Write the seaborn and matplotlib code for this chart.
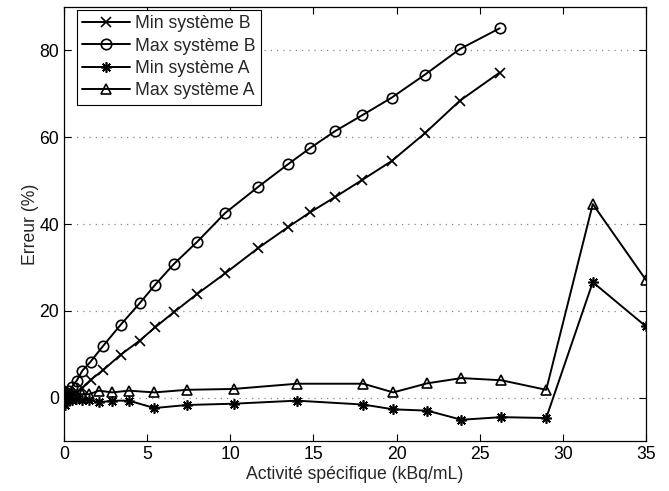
import numpy as np
import pandas as pd
import matplotlib
matplotlib.use("Agg")
import matplotlib.pyplot as plt
import seaborn as sns

# activity values (kBq/mL)
x_sys_b = [0.05, 0.1, 0.2, 0.3, 0.46, 0.76, 1.1, 1.6, 2.37, 3.41, 4.54, 5.48, 6.61, 8.01,
           9.68, 11.69, 13.48, 14.8, 16.3, 17.95, 19.7, 21.7, 23.8, 26.2]
min_sys_b = [0.0, 0.1, 0.2, 0.4, 0.7, 1.2, 2.2, 4.1, 6.4, 9.9, 13.1, 16.2, 19.7, 23.9,
             28.6, 34.5, 39.3, 42.7, 46.2, 50.2, 54.5, 60.9, 68.4, 74.9]
max_sys_b = [0.3, 0.6, 1.0, 1.5, 2.4, 3.9, 6.2, 8.3, 12.0, 16.8, 21.7, 26.0, 30.8, 35.9,
             42.5, 48.6, 53.8, 57.5, 61.4, 65.1, 69.1, 74.4, 80.3, 85.1]

x_sys_a = [0.05, 0.1, 0.2, 0.3, 0.45, 0.7, 1.06, 1.52, 2.1, 2.9, 3.9, 5.43, 7.4, 10.2,
           14.0, 18.0, 19.8, 21.85, 23.9, 26.3, 29.0, 31.8, 35.0]
min_sys_a = [-1.7, -0.8, -0.5, -0.3, -0.6, -0.3, -0.5, -0.5, -1.1, -0.7, -0.7, -2.4, -1.7, -1.4,
             -0.7, -1.6, -2.7, -3.0, -5.1, -4.5, -4.7, 26.6, 16.4]
max_sys_a = [1.5, 1.0, 0.8, 0.5, 0.8, 0.6, 0.8, 0.8, 1.6, 1.2, 1.6, 1.2, 1.8, 2.0,
             3.2, 3.2, 1.2, 3.3, 4.5, 4.0, 1.8, 44.6, 27.1]

series = [
    ("Min système B", x_sys_b, min_sys_b, "x", "k"),
    ("Max système B", x_sys_b, max_sys_b, "o", "none"),
    ("Min système A", x_sys_a, min_sys_a, (8, 2, 0), "k"),
    ("Max système A", x_sys_a, max_sys_a, "^", "none"),
]

sns.set_style("ticks")
plt.rcParams["font.family"] = ["Liberation Sans", "DejaVu Sans"]
plt.rcParams["font.size"] = 12.7

fig = plt.figure(figsize=(6.69, 4.91), dpi=100)
ax = fig.add_axes([0.0957, 0.1018, 0.8699, 0.8839])

for name, xs, ys, mk, face in series:
    df = pd.DataFrame({"x": xs, "y": ys})
    sns.lineplot(data=df, x="x", y="y", ax=ax, color="k", linewidth=1.4,
                 marker=mk, markersize=7.5, markerfacecolor=face,
                 markeredgecolor="k", markeredgewidth=1.2, label=name)

ax.set_xlim(0, 35)
ax.set_ylim(-10, 90)
ax.set_xticks(range(0, 36, 5))
ax.set_yticks([0, 20, 40, 60, 80])
ax.yaxis.grid(True, linestyle=(0, (1, 4)), color="#888888", linewidth=0.9)
ax.tick_params(direction="in", top=True, right=True, length=5, width=0.8,
               labelsize=12.7, colors="k")
for sp in ax.spines.values():
    sp.set_visible(True)
    sp.set_color("k")
    sp.set_linewidth(0.9)

ax.set_xlabel("Activité spécifique (kBq/mL)", fontsize=12.7, labelpad=2)
ax.set_ylabel("Erreur (%)", fontsize=12.7, labelpad=0)

leg = ax.legend(loc="upper left", bbox_to_anchor=(0.022, 0.993), borderaxespad=0,
                fontsize=12.7, handlelength=2.7, handletextpad=0.3,
                labelspacing=0.3, borderpad=0.3, fancybox=False,
                framealpha=1, edgecolor="k")
leg.get_frame().set_linewidth(0.8)

fig.savefig("out.png", dpi=100)
